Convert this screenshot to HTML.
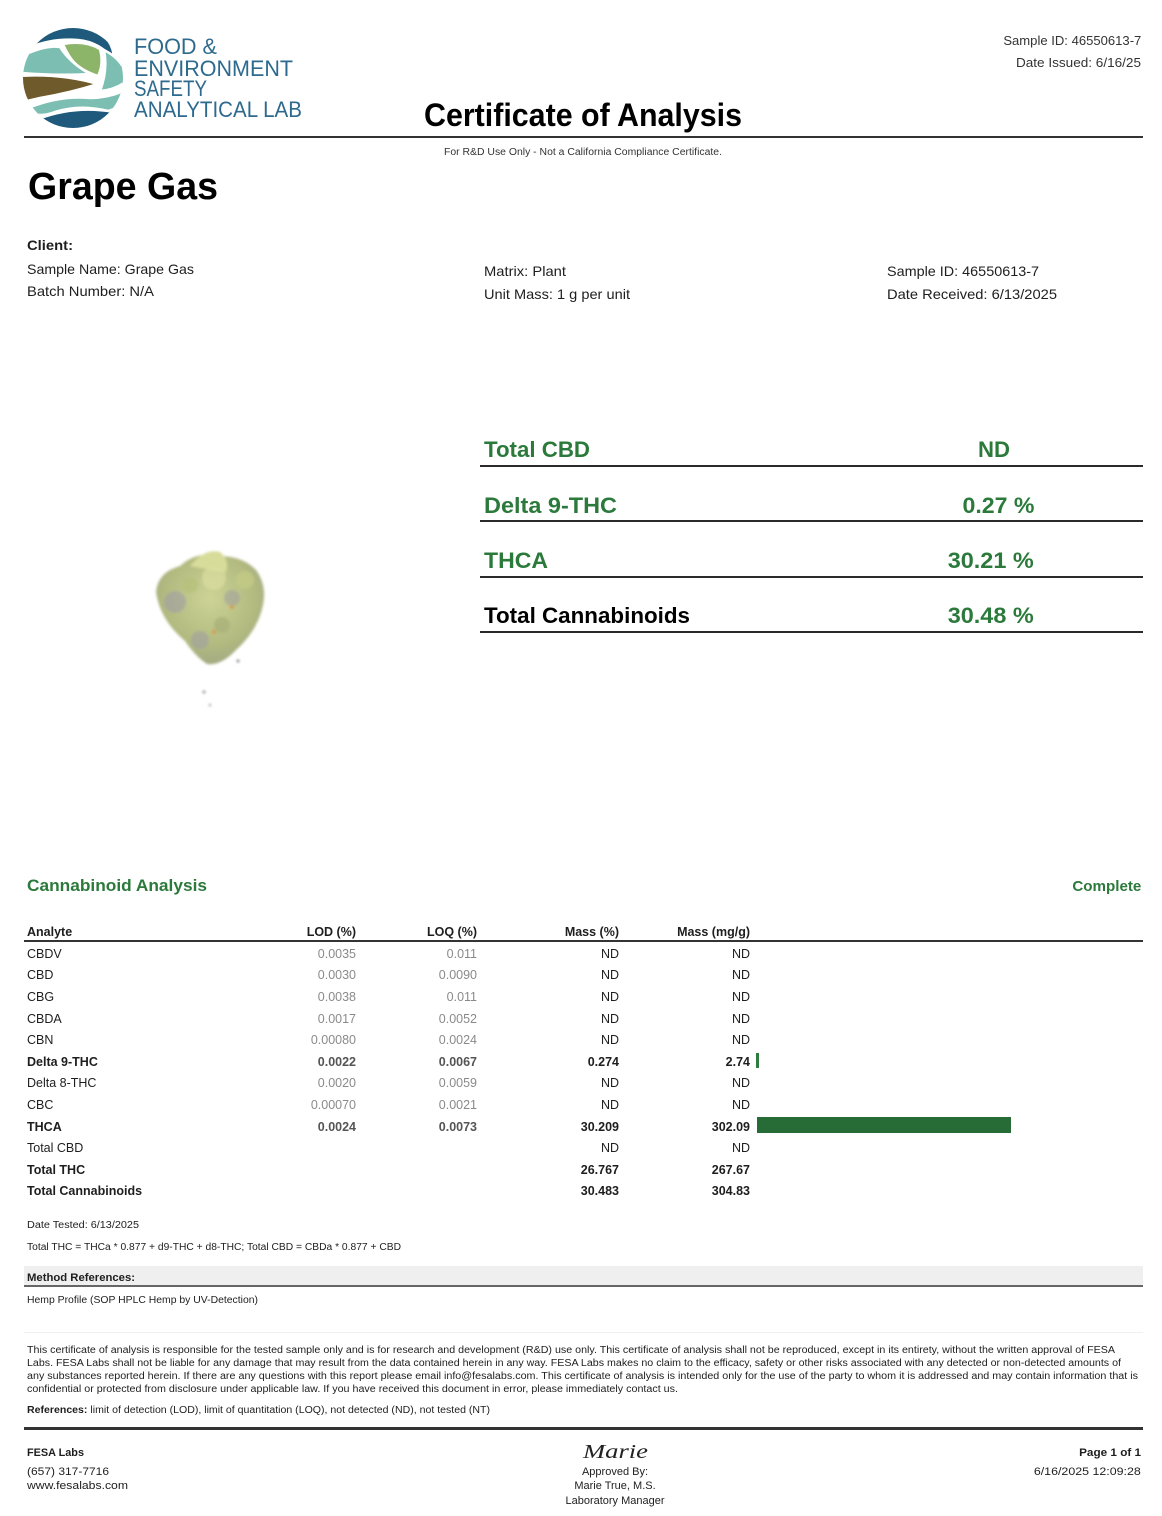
<!DOCTYPE html>
<html><head><meta charset="utf-8"><style>
*{margin:0;padding:0;box-sizing:border-box}
body{width:1162px;height:1516px;background:#fff;font-family:"Liberation Sans",Arial,sans-serif;color:#1e1e1e;position:relative;overflow:hidden}
.t{position:absolute;white-space:nowrap;line-height:1}
.bd{font-weight:bold}
.gr{color:#2b7a3b}
.hl{position:absolute;background:#2a2a2a}
.r{position:absolute;left:0;width:1162px;height:13px;font-size:12.5px;line-height:1}
.r span{position:absolute;white-space:nowrap;top:0}
.a{left:27px}.l{right:806px;color:#8a8a8a}.q{right:685px;color:#8a8a8a}.m{right:543px}.g{right:412px}
.b{font-weight:bold}.b .l,.b .q{color:#555}
.logo{position:absolute;color:#2e6a8e;font-size:22px}
</style></head><body>

<svg style="position:absolute;left:0;top:0" width="130" height="135" viewBox="0 0 130 135">
<defs><clipPath id="c"><circle cx="73" cy="78" r="50"/></clipPath></defs>
<g clip-path="url(#c)" stroke="#fff" stroke-width="2.5" stroke-linejoin="round">
<path d="M28,48 Q55,20 92,28 Q114,38 114,60 Q100,42 78,40 Q52,38 28,48 Z" fill="#1f5a7c"/>
<path d="M63,44 Q85,40 100,49 Q104,64 98,76 Q80,70 72,60 Q66,52 63,44 Z" fill="#8db56a"/>
<path d="M24,55 Q46,45 60,47 Q70,63 90,74 Q60,76 22,73 Z" fill="#7cbfb2"/>
<path d="M18,76 Q60,73 98,84 Q70,93 40,98 L18,103 Z" fill="#6e5a2a"/>
<path d="M104,50 Q124,60 128,80 Q116,90 100,91 Q108,70 104,50 Z" fill="#7cbfb2"/>
<path d="M28,108 Q60,95 90,98 Q110,98 128,89 Q122,108 108,111 Q80,104 55,112 Q40,118 28,112 Z" fill="#7cbfb2"/>
<path d="M38,119 Q75,105 114,112 Q100,132 73,132 Q50,132 38,119 Z" fill="#1f5a7c"/>
</g></svg>
<div class="t logo f" style="left:134px;top:36.2px;--w:83">FOOD &amp;</div>
<div class="t logo f" style="left:134px;top:58.2px;--w:159">ENVIRONMENT</div>
<div class="t logo f" style="left:134px;top:78.2px;--w:73">SAFETY</div>
<div class="t logo f" style="left:134px;top:99.2px;--w:168">ANALYTICAL LAB</div>

<div class="t f" style="right:21px;top:34px;font-size:13px;color:#333;--w:138">Sample ID: 46550613-7</div>
<div class="t f" style="right:21px;top:56px;font-size:13px;color:#333;--w:125">Date Issued: 6/16/25</div>
<div class="t bd f" style="left:424px;top:99px;font-size:32px;color:#000;--w:318">Certificate of Analysis</div>
<div class="hl" style="left:24px;top:135.5px;width:1119px;height:2.5px;background:#333"></div>
<div class="t f" style="left:444px;top:147.5px;font-size:10px;color:#333;--w:278">For R&amp;D Use Only - Not a California Compliance Certificate.</div>

<div class="t bd f" style="left:28px;top:168px;font-size:38px;color:#000;--w:190">Grape Gas</div>
<div class="t bd f" style="left:27px;top:237.5px;font-size:14px;--w:46">Client:</div>
<div class="t f" style="left:27px;top:261.5px;font-size:14px;--w:167">Sample Name: Grape Gas</div>
<div class="t f" style="left:27px;top:283.5px;font-size:14px;--w:127">Batch Number: N/A</div>
<div class="t f" style="left:484px;top:263.5px;font-size:14px;--w:82">Matrix: Plant</div>
<div class="t f" style="left:484px;top:286.5px;font-size:14px;--w:146">Unit Mass: 1 g per unit</div>
<div class="t f" style="left:887px;top:263.5px;font-size:14px;--w:152">Sample ID: 46550613-7</div>
<div class="t f" style="left:887px;top:286.5px;font-size:14px;--w:170">Date Received: 6/13/2025</div>

<svg style="position:absolute;left:0;top:0" width="400" height="760" viewBox="0 0 400 760">
<defs>
<radialGradient id="bg1" cx="0.5" cy="0.4" r="0.6"><stop offset="0" stop-color="#cdd395"/><stop offset="0.7" stop-color="#b2ba80"/><stop offset="1" stop-color="#a3aa82"/></radialGradient>
<filter id="bl"><feGaussianBlur stdDeviation="1.2"/></filter>
</defs>
<g filter="url(#bl)">
<path d="M156,592 Q158,572 180,566 Q195,552 215,556 Q242,555 256,570 Q267,585 263,605 Q258,630 236,650 Q221,666 207,664 Q195,656 185,641 Q160,620 156,592 Z" fill="url(#bg1)"/>
<path d="M190,566 Q205,548 220,552 Q230,560 226,572 Q210,570 190,566 Z" fill="#d8dc9a"/>
<circle cx="175" cy="602" r="11" fill="#9c9aa8" opacity="0.55"/>
<circle cx="200" cy="640" r="9" fill="#9c9aa8" opacity="0.5"/>
<circle cx="232" cy="598" r="8" fill="#9895a5" opacity="0.45"/>
<circle cx="214" cy="578" r="12" fill="#dcdea0" opacity="0.7"/>
<circle cx="245" cy="580" r="9" fill="#c3cb85" opacity="0.8"/>
<circle cx="190" cy="585" r="8" fill="#b7c07c" opacity="0.8"/>
<circle cx="222" cy="625" r="8" fill="#a9b27a" opacity="0.8"/>
<circle cx="232" cy="607" r="2" fill="#d49a4a"/>
<circle cx="214" cy="632" r="2" fill="#d49a4a"/>
<circle cx="238" cy="661" r="1.5" fill="#888"/>
<circle cx="204" cy="692" r="1.5" fill="#999"/>
<circle cx="210" cy="705" r="1.3" fill="#aaa"/>
</g></svg>

<div class="t bd gr f" style="left:484px;top:438.5px;font-size:22px;--w:106">Total CBD</div>
<div class="t bd gr f" style="left:978px;top:438.5px;font-size:22px;--w:32">ND</div>
<div class="hl" style="left:480px;top:465px;width:663px;height:2px"></div>
<div class="t bd gr f" style="left:484px;top:494.5px;font-size:22px;--w:133">Delta 9-THC</div>
<div class="t bd gr f" style="right:128px;top:494.5px;font-size:22px;--w:72">0.27 %</div>
<div class="hl" style="left:480px;top:520px;width:663px;height:2px"></div>
<div class="t bd gr f" style="left:484px;top:549.5px;font-size:22px;--w:64">THCA</div>
<div class="t bd gr f" style="right:128px;top:549.5px;font-size:22px;--w:86">30.21 %</div>
<div class="hl" style="left:480px;top:576px;width:663px;height:2px"></div>
<div class="t bd f" style="left:484px;top:604.5px;font-size:22px;color:#000;--w:206">Total Cannabinoids</div>
<div class="t bd gr f" style="right:128px;top:604.5px;font-size:22px;--w:86">30.48 %</div>
<div class="hl" style="left:480px;top:631px;width:663px;height:2px"></div>

<div class="t bd gr f" style="left:27px;top:877px;font-size:17px;--w:180">Cannabinoid Analysis</div>
<div class="t bd gr f" style="right:21px;top:879px;font-size:15px;--w:69">Complete</div>

<div class="r b" style="top:925.5px"><span class="a">Analyte</span><span class="l" style="color:#1e1e1e">LOD (%)</span><span class="q" style="color:#1e1e1e">LOQ (%)</span><span class="m">Mass (%)</span><span class="g">Mass (mg/g)</span></div>
<div class="hl" style="left:24px;top:940px;width:1119px;height:1.5px;background:#333"></div>
<div class="r" style="top:947.5px"><span class="a">CBDV</span><span class="l">0.0035</span><span class="q">0.011</span><span class="m">ND</span><span class="g">ND</span></div>
<div class="r" style="top:968.5px"><span class="a">CBD</span><span class="l">0.0030</span><span class="q">0.0090</span><span class="m">ND</span><span class="g">ND</span></div>
<div class="r" style="top:990.5px"><span class="a">CBG</span><span class="l">0.0038</span><span class="q">0.011</span><span class="m">ND</span><span class="g">ND</span></div>
<div class="r" style="top:1012.5px"><span class="a">CBDA</span><span class="l">0.0017</span><span class="q">0.0052</span><span class="m">ND</span><span class="g">ND</span></div>
<div class="r" style="top:1033.5px"><span class="a">CBN</span><span class="l">0.00080</span><span class="q">0.0024</span><span class="m">ND</span><span class="g">ND</span></div>
<div class="r b" style="top:1055.5px"><span class="a">Delta 9-THC</span><span class="l">0.0022</span><span class="q">0.0067</span><span class="m">0.274</span><span class="g">2.74</span></div>
<div class="r" style="top:1076.5px"><span class="a">Delta 8-THC</span><span class="l">0.0020</span><span class="q">0.0059</span><span class="m">ND</span><span class="g">ND</span></div>
<div class="r" style="top:1098.5px"><span class="a">CBC</span><span class="l">0.00070</span><span class="q">0.0021</span><span class="m">ND</span><span class="g">ND</span></div>
<div class="r b" style="top:1120.5px"><span class="a">THCA</span><span class="l">0.0024</span><span class="q">0.0073</span><span class="m">30.209</span><span class="g">302.09</span></div>
<div class="r" style="top:1141.5px"><span class="a">Total CBD</span><span class="m">ND</span><span class="g">ND</span></div>
<div class="r b" style="top:1163.5px"><span class="a">Total THC</span><span class="m">26.767</span><span class="g">267.67</span></div>
<div class="r b" style="top:1184.5px"><span class="a">Total Cannabinoids</span><span class="m">30.483</span><span class="g">304.83</span></div>
<div style="position:absolute;left:756px;top:1053px;width:2.5px;height:15px;background:#2e7d3e"></div>
<div style="position:absolute;left:757px;top:1117px;width:254px;height:16px;background:#276b37"></div>

<div class="t f" style="left:27px;top:1220.5px;font-size:10px;--w:112">Date Tested: 6/13/2025</div>
<div class="t f" style="left:27px;top:1242.5px;font-size:10px;--w:374">Total THC = THCa * 0.877 + d9-THC + d8-THC; Total CBD = CBDa * 0.877 + CBD</div>
<div style="position:absolute;left:24px;top:1266px;width:1119px;height:19px;background:#efefef"></div>
<div class="t bd f" style="left:27px;top:1272.5px;font-size:11px;--w:108">Method References:</div>
<div class="hl" style="left:24px;top:1285px;width:1119px;height:2px;background:#666"></div>
<div class="t f" style="left:27px;top:1296px;font-size:10px;--w:231">Hemp Profile (SOP HPLC Hemp by UV-Detection)</div>
<div class="hl" style="left:24px;top:1332px;width:1119px;height:1px;background:#f0f0f0"></div>

<div class="t f" style="left:27px;top:1346.3px;font-size:10px;--w:1088">This certificate of analysis is responsible for the tested sample only and is for research and development (R&amp;D) use only. This certificate of analysis shall not be reproduced, except in its entirety, without the written approval of FESA</div>
<div class="t f" style="left:27px;top:1359.2px;font-size:10px;--w:1094">Labs. FESA Labs shall not be liable for any damage that may result from the data contained herein in any way. FESA Labs makes no claim to the efficacy, safety or other risks associated with any detected or non-detected amounts of</div>
<div class="t f" style="left:27px;top:1372px;font-size:10px;--w:1111">any substances reported herein. If there are any questions with this report please email info@fesalabs.com. This certificate of analysis is intended only for the use of the party to whom it is addressed and may contain information that is</div>
<div class="t f" style="left:27px;top:1384.8px;font-size:10px;--w:651">confidential or protected from disclosure under applicable law. If you have received this document in error, please immediately contact us.</div>
<div class="t f" style="left:27px;top:1406px;font-size:10px;--w:463"><b>References:</b> limit of detection (LOD), limit of quantitation (LOQ), not detected (ND), not tested (NT)</div>

<div class="hl" style="left:24px;top:1427px;width:1119px;height:2.5px;background:#333"></div>
<div class="t bd f" style="left:27px;top:1448px;font-size:11px;--w:57">FESA Labs</div>
<div class="t f" style="left:27px;top:1467px;font-size:11px;--w:82">(657) 317-7716</div>
<div class="t f" style="left:27px;top:1481px;font-size:11px;--w:101">www.fesalabs.com</div>
<div class="t f" style="left:583px;top:1442px;font-size:20px;font-style:italic;font-family:'Liberation Serif',serif;color:#222;--w:65">Marie</div>
<div class="t" style="left:515px;width:200px;text-align:center;top:1467px;font-size:11px">Approved By:</div>
<div class="t" style="left:515px;width:200px;text-align:center;top:1481px;font-size:11px">Marie True, M.S.</div>
<div class="t" style="left:515px;width:200px;text-align:center;top:1496px;font-size:11px">Laboratory Manager</div>
<div class="t bd f" style="right:21px;top:1448px;font-size:11px;--w:62">Page 1 of 1</div>
<div class="t f" style="right:21px;top:1467px;font-size:11px;--w:107">6/16/2025 12:09:28</div>

<script>
(function(){var els=document.querySelectorAll('.f');for(var i=0;i<els.length;i++){var e=els[i];var w=parseFloat(e.style.getPropertyValue('--w'));if(!w)continue;var r=e.getBoundingClientRect().width;if(r>0){e.style.transformOrigin=e.style.right?'right center':'left center';e.style.transform='scaleX('+(w/r)+')';}}})();
</script>
</body></html>
